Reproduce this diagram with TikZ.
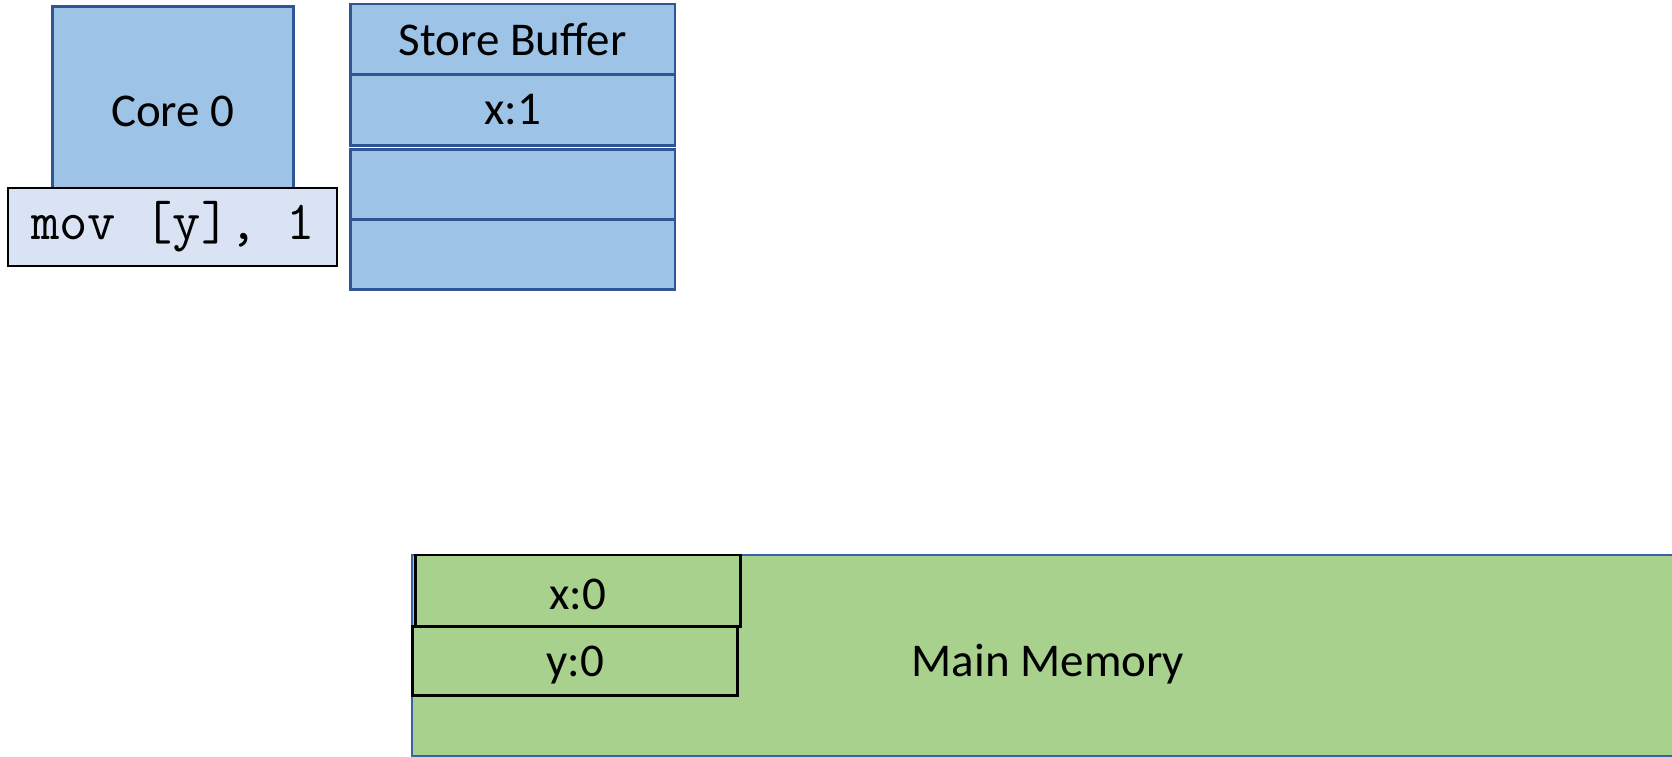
\documentclass[tikz,border=0pt]{standalone}
\usepackage{fontspec}
\setmainfont{Carlito}
\definecolor{cpublue}{HTML}{9DC3E6}
\definecolor{cpuedge}{HTML}{2F5597}
\definecolor{instfill}{HTML}{DAE3F3}
\definecolor{memgreen}{HTML}{A9D18E}
\definecolor{memedge}{HTML}{3A62A8}
\tikzset{
  box/.style={rectangle, inner sep=0pt, outer sep=0pt, font=\fontsize{47}{56}\selectfont},
  bluebox/.style={box, fill=cpublue, draw=cpuedge, line width=2.5pt},
  instbox/.style={box, fill=instfill, draw=black, line width=2pt,
    font=\ttfamily\fontsize{55}{60}\selectfont},
  cellbox/.style={box, fill=memgreen, draw=black, line width=2.5pt},
  sbrow/.style={bluebox, minimum width=324.7pt},
}
% shift a label down without changing the box it occupies
\newcommand{\lowered}[1]{\raisebox{-4pt}[\height][\depth]{#1}}
\begin{document}
\begin{tikzpicture}[x=1pt, y=-1pt]
\useasboundingbox (0,0) rectangle (1672,757);

% core and its current instruction
\node[bluebox, minimum width=241pt, minimum height=208.6pt] (core) at (172.8,111) {Core 0};
\node[instbox, minimum width=329pt, minimum height=77.4pt] (inst) at (172.8,227) {mov [y], 1};

% store buffer entries
\node[sbrow, minimum height=70.7pt] (sb0) at (512.65,39.35) {Store Buffer};
\node[sbrow, minimum height=70.6pt] (sb1) at (512.65,110) {x:1};
\node[sbrow, minimum height=70pt] (sb2) at (512.65,184.3) {};
\node[sbrow, minimum height=70pt] (sb3) at (512.65,254.3) {};

% main memory block, running off the right edge
\begin{scope}
\clip (0,0) rectangle (1672,757);
\fill[memgreen] (412.3,555) rectangle (1680,755.7);
\draw[memedge, line width=1.8pt] (1680,555) -- (412.3,555) -- (412.3,755.7) -- (1680,755.7);
\end{scope}
\node[box] (memlabel) at (1048,664) {Main Memory};

% memory cells
\node[cellbox, minimum width=324.6pt, minimum height=71.3pt] (xcell) at (578,590.65) {\lowered{x:0}};
\node[cellbox, minimum width=324.6pt, minimum height=69.4pt] (ycell) at (575,661) {\lowered{y:0}};
\end{tikzpicture}
\end{document}
